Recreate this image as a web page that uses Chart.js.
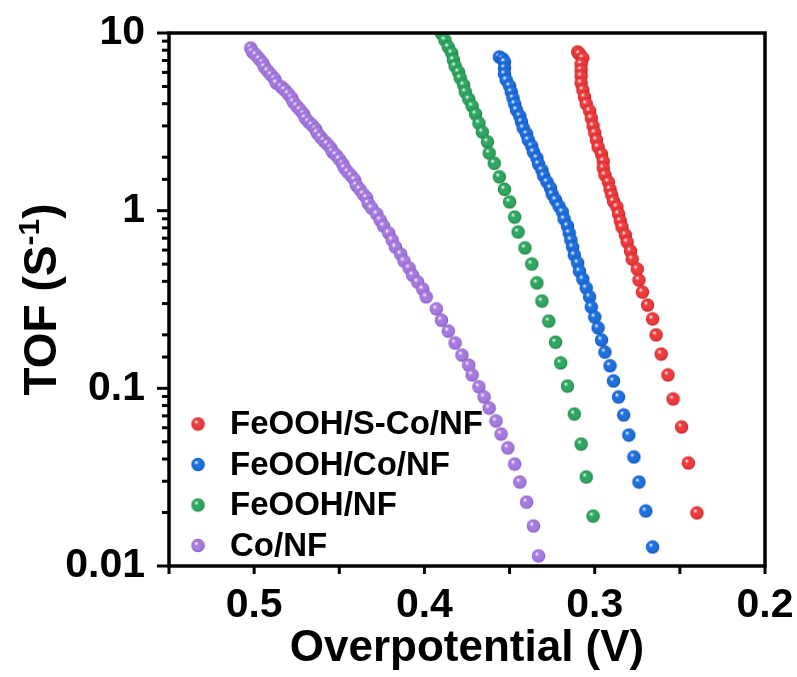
<!DOCTYPE html>
<html lang="en">
<head>
  <meta charset="UTF-8">
  <title>TOF vs Overpotential</title>
  <script src="https://cdn.jsdelivr.net/npm/chart.js"></script>
  <style>
    body{
      margin: 0;
      background: #fff;
    }
    canvas{
      display: block;
    }
  </style>
</head>
<body>
  <canvas id="tofChart" width="797" height="677"></canvas>

  <script>
    // ---- data ----
    const seriesNames = ['FeOOH/S-Co/NF', 'FeOOH/Co/NF', 'FeOOH/NF', 'Co/NF'];

    const xTickValues = [0.5, 0.4, 0.3, 0.2];
    const xTickLabels = ['0.5', '0.4', '0.3', '0.2'];
    const yTickValues = [0.01, 0.1, 1, 10];
    const yTickLabels = ['0.01', '0.1', '1', '10'];

    const redX = [0.310,0.309,0.307,0.308,0.308,0.308,0.308,0.307,0.306,0.305,0.303,0.302,0.301,0.300,0.299,0.298,0.296,0.295,0.295,0.294,0.292,0.291,0.290,0.289,0.287,0.286,0.285,0.284,0.282,0.281,0.279,0.278,0.275,0.274,0.272,0.269,0.266,0.264,0.261,0.257,0.254,0.249,0.245,0.240];
    const redY = [7.82,7.62,7.23,6.69,6.19,5.73,5.23,4.78,4.36,3.99,3.64,3.32,3.00,2.74,2.50,2.28,2.08,1.90,1.74,1.59,1.45,1.32,1.225,1.13,1.05,0.958,0.875,0.809,0.730,0.666,0.593,0.534,0.469,0.407,0.348,0.294,0.246,0.200,0.156,0.119,0.0871,0.0606,0.0380,0.0199];

    const blueX = [0.356,0.354,0.353,0.353,0.353,0.352,0.350,0.349,0.348,0.347,0.346,0.344,0.343,0.342,0.340,0.339,0.337,0.336,0.334,0.333,0.331,0.330,0.328,0.326,0.325,0.323,0.321,0.319,0.318,0.316,0.315,0.314,0.313,0.312,0.310,0.309,0.307,0.305,0.303,0.302,0.300,0.298,0.296,0.294,0.291,0.289,0.286,0.283,0.280,0.277,0.274,0.270,0.266];
    const blueY = [7.33,7.14,6.87,6.35,5.88,5.44,5.03,4.66,4.31,3.99,3.69,3.41,3.16,2.92,2.70,2.50,2.31,2.14,1.98,1.83,1.69,1.57,1.45,1.34,1.24,1.15,1.06,0.983,0.898,0.820,0.749,0.684,0.624,0.563,0.508,0.457,0.412,0.367,0.327,0.287,0.252,0.219,0.187,0.160,0.134,0.110,0.0894,0.0708,0.0546,0.0411,0.0297,0.0204,0.0128];

    const greenX = [0.390,0.388,0.386,0.384,0.383,0.382,0.380,0.379,0.377,0.376,0.374,0.372,0.370,0.368,0.366,0.363,0.362,0.359,0.356,0.353,0.350,0.347,0.345,0.341,0.337,0.334,0.331,0.327,0.323,0.320,0.316,0.312,0.308,0.305,0.301];
    const greenY = [9.95,9.13,8.34,7.72,7.05,6.52,6.03,5.58,5.10,4.66,4.25,3.88,3.50,3.11,2.77,2.44,2.11,1.85,1.55,1.32,1.12,0.921,0.759,0.617,0.501,0.392,0.310,0.239,0.182,0.139,0.103,0.0717,0.0486,0.0317,0.0191];

    const purpleX = [0.502,0.501,0.499,0.497,0.495,0.494,0.492,0.490,0.488,0.487,
      0.484,0.482,0.480,0.478,0.477,0.475,0.473,0.471,0.470,0.468,
      0.466,0.464,0.463,0.461,0.459,0.457,0.455,0.454,0.452,0.450,
      0.448,0.447,0.445,0.443,0.441,0.440,0.438,0.436,0.434,0.433,
      0.431,0.428,0.426,0.424,0.421,0.419,0.417,0.414,0.412,0.409,
      0.407,0.404,0.401,0.399,
      0.393,0.390,0.386,0.382,0.378,0.374,0.372,0.368,0.365,0.362,0.358,0.355,0.351,0.347,0.344,0.340,0.336,0.333];
    const purpleY = [8.23,7.82,7.52,7.14,6.78,6.44,6.11,5.80,5.51,5.23,
      4.97,4.78,4.54,4.31,4.09,3.88,3.69,3.50,3.32,3.16,
      3.03,2.88,2.74,2.60,2.47,2.37,2.25,2.14,2.06,1.95,
      1.83,1.74,1.65,1.57,1.49,1.39,1.32,1.24,1.18,1.10,
      1.035,0.958,0.886,0.820,0.749,0.684,0.624,0.570,0.521,0.476,
      0.434,0.397,0.362,0.327,
      0.280,0.242,0.210,0.180,0.154,0.135,0.119,0.102,0.0894,0.0775,0.0655,0.0553,0.0462,0.0375,0.0297,0.0229,0.0168,0.0114];

    // ---- styling ----
    const FONT = '"Liberation Sans", Arial, sans-serif';
    const baseColors = ['#EE3B3D', '#1E6FDF', '#2EA760', '#A67BDF'];
    const edgeColors = ['#B2191C', '#0B4AA8', '#17743E', '#7A50B8'];
    // where the plot box should land on the 797x677 canvas
    const plotBox = { left: 169, top: 33, right: 765, bottom: 566 };

    // little shaded ball, like the Origin "sphere" symbol
    function makeSphere(color, edge) {
      const size = 15, r = 6.7;
      const c = document.createElement('canvas');
      c.width = size;
      c.height = size;
      const g = c.getContext('2d');
      const cx = size / 2, cy = size / 2;
      const grad = g.createRadialGradient(cx - 2, cy - 2.4, 0.3, cx, cy, r);
      grad.addColorStop(0, '#ffffff');
      grad.addColorStop(0.3, color);
      grad.addColorStop(0.78, color);
      grad.addColorStop(1, edge);
      g.fillStyle = grad;
      g.beginPath();
      g.arc(cx, cy, r, 0, Math.PI * 2);
      g.fill();
      return c;
    }

    function toPoints(xs, ys) {
      return xs.map((x, i) => ({ x: x, y: ys[i] }));
    }

    function labelFor(values, labels, v) {
      const i = values.findIndex(t => Math.abs(t - v) < 1e-6 * Math.max(1, t));
      return i >= 0 ? labels[i] : '';
    }

    function isDecade(v) {
      const l = Math.log10(v);
      return Math.abs(l - Math.round(l)) < 1e-6;
    }

    const seriesData = [
      toPoints(redX, redY),
      toPoints(blueX, blueY),
      toPoints(greenX, greenY),
      toPoints(purpleX, purpleY)
    ];

    const datasets = seriesNames.map((name, i) => ({
      label: name,
      data: seriesData[i],
      pointStyle: makeSphere(baseColors[i], edgeColors[i]),
      showLine: false
    }));

    // box around plot + outward ticks (long ones on decades)
    const frameAndTicks = {
      id: 'frameAndTicks',
      afterDraw(chart) {
        const { ctx, chartArea: a, scales } = chart;
        ctx.save();
        ctx.strokeStyle = '#000';
        ctx.lineWidth = 3;
        scales.y.ticks.forEach(t => {
          const py = scales.y.getPixelForValue(t.value);
          const len = isDecade(t.value) ? 12 : 7;
          ctx.beginPath();
          ctx.moveTo(a.left, py);
          ctx.lineTo(a.left - len, py);
          ctx.stroke();
        });
        scales.x.ticks.forEach(t => {
          const px = scales.x.getPixelForValue(t.value);
          ctx.beginPath();
          ctx.moveTo(px, a.bottom);
          ctx.lineTo(px, a.bottom + 8);
          ctx.stroke();
        });
        ctx.lineWidth = 3.5;
        ctx.strokeRect(a.left, a.top, a.right - a.left, a.bottom - a.top);
        ctx.restore();
      }
    };

    // legend sits inside the plot, lower left
    const insideLegend = {
      id: 'insideLegend',
      afterDatasetsDraw(chart) {
        const ctx = chart.ctx;
        ctx.save();
        ctx.font = 'bold 33px ' + FONT;
        ctx.textBaseline = 'middle';
        ctx.fillStyle = '#000';
        chart.data.datasets.forEach((ds, i) => {
          const y = 424 + i * 40.5;
          ctx.drawImage(ds.pointStyle, 198 - 7.5, y - 7.5);
          ctx.fillText(ds.label, 230, y + 1);
        });
        ctx.restore();
      }
    };

    // y title with a real superscript
    const yTitle = {
      id: 'yTitle',
      afterDraw(chart) {
        const ctx = chart.ctx;
        const a = chart.chartArea;
        const mainFont = 'bold 46px ' + FONT;
        const supFont = 'bold 30px ' + FONT;
        ctx.save();
        ctx.fillStyle = '#000';
        ctx.textBaseline = 'alphabetic';
        ctx.font = mainFont;
        const w1 = ctx.measureText('TOF (S').width;
        const w3 = ctx.measureText(')').width;
        ctx.font = supFont;
        const w2 = ctx.measureText('-1').width;
        const total = w1 + w2 + w3;
        ctx.translate(40, (a.top + a.bottom) / 2);
        ctx.rotate(-Math.PI / 2);
        let x = -total / 2;
        const base = 16;
        ctx.font = mainFont;
        ctx.fillText('TOF (S', x, base);
        x += w1;
        ctx.font = supFont;
        ctx.fillText('-1', x, base - 17);
        x += w2;
        ctx.font = mainFont;
        ctx.fillText(')', x, base);
        ctx.restore();
      }
    };

    Chart.defaults.font.family = FONT;
    Chart.defaults.color = '#000';

    new Chart(document.getElementById('tofChart'), {
      type: 'scatter',
      data: { datasets: datasets },
      plugins: [frameAndTicks, insideLegend, yTitle],
      options: {
        responsive: false,
        animation: false,
        events: [],
        layout: {
          padding: {
            top: plotBox.top,
            right: 797 - plotBox.right,
            left: 0,
            bottom: 0
          }
        },
        plugins: {
          legend: { display: false },
          tooltip: { enabled: false }
        },
        scales: {
          x: {
            type: 'linear',
            reverse: true,
            min: 0.2,
            max: 0.55,
            grid: { display: false, drawTicks: false },
            border: { display: false },
            // fixed height, and no extra room asked for the end labels
            afterFit: s => {
              s.height = 677 - plotBox.bottom;
              s.paddingLeft = 0;
              s.paddingRight = 0;
            },
            ticks: {
              stepSize: 0.05,
              autoSkip: false,
              maxRotation: 0,
              padding: 15,
              color: '#000',
              font: { size: 41, weight: 'bold' },
              callback: v => labelFor(xTickValues, xTickLabels, v)
            },
            title: {
              display: true,
              text: 'Overpotential (V)',
              color: '#000',
              font: { size: 44, weight: 'bold' },
              padding: { top: 0, bottom: 2 }
            }
          },
          y: {
            type: 'logarithmic',
            min: 0.01,
            max: 10,
            grid: { display: false, drawTicks: false },
            border: { display: false },
            afterFit: s => {
              s.width = plotBox.left;
              s.paddingTop = 0;
              s.paddingBottom = 0;
            },
            ticks: {
              autoSkip: false,
              padding: 24,
              color: '#000',
              font: { size: 41, weight: 'bold' },
              callback: v => labelFor(yTickValues, yTickLabels, v)
            }
          }
        }
      }
    });
  </script>
</body>
</html>
